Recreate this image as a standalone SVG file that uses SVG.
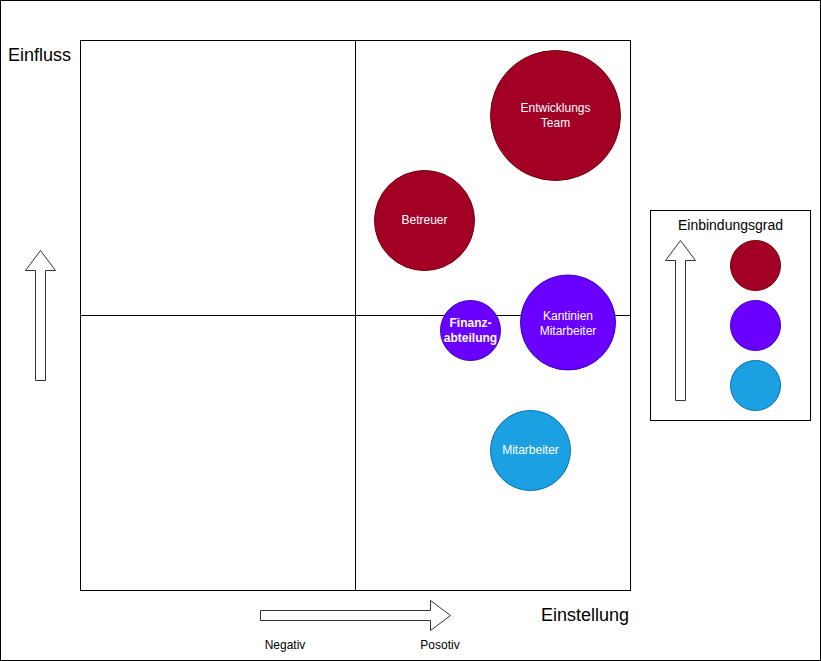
<svg xmlns="http://www.w3.org/2000/svg" width="821" height="661" viewBox="0 0 821 661">
<style>
.t{font-family:"Liberation Sans",Arial,sans-serif;fill:#000}
.w{font-family:"Liberation Sans",Arial,sans-serif;fill:#fff;font-size:12px;text-anchor:middle}
.red{fill:#a20025;stroke:#6f0000}
.pur{fill:#6a00ff;stroke:#3700cc}
.blu{fill:#1ba1e2;stroke:#006eaf}
.arr{fill:#fff;stroke:#333;stroke-width:1}
.ln{fill:none;stroke:#000;stroke-width:1}
</style>
<rect x="0.5" y="0.5" width="820" height="660" fill="#fff" stroke="#000"/>
<g id="grid">
<rect class="ln" x="80.5" y="40.5" width="550" height="550"/>
<line class="ln" x1="355.5" y1="40.5" x2="355.5" y2="590.5"/>
<line class="ln" x1="80.5" y1="315.5" x2="630.5" y2="315.5"/>
</g>
<g id="axis-labels">
<text class="t" x="8" y="61" font-size="18">Einfluss</text>
<text class="t" x="541" y="621" font-size="18">Einstellung</text>
<text class="t" x="285" y="649" font-size="12" text-anchor="middle">Negativ</text>
<text class="t" x="440" y="649" font-size="12" text-anchor="middle">Posotiv</text>
</g>
<g id="connectors">
<path id="arrow-up" class="arr" d="M35.5,380.5 V270.5 H25.5 L40.5,250.5 L55.5,270.5 H45.5 V380.5 Z"/>
<path id="arrow-right" class="arr" d="M260.5,610.5 H430.5 V600.5 L450.5,615.5 L430.5,630.5 V620.5 H260.5 Z"/>
</g>
<g id="entwicklungs-team">
<circle class="red" cx="555.5" cy="115.5" r="65"/>
<text class="w" x="555.5" y="112">Entwicklungs</text>
<text class="w" x="555.5" y="127">Team</text>
</g>
<g id="betreuer">
<circle class="red" cx="424.5" cy="220.5" r="50"/>
<text class="w" x="424.5" y="224">Betreuer</text>
</g>
<g id="finanzabteilung">
<circle class="pur" cx="470.5" cy="330.5" r="30"/>
<text class="w" x="470.5" y="327" font-weight="bold">Finanz-</text>
<text class="w" x="470.5" y="342" font-weight="bold">abteilung</text>
</g>
<g id="kantinien-mitarbeiter">
<circle class="pur" cx="568" cy="322.5" r="47.5"/>
<text class="w" x="568" y="320">Kantinien</text>
<text class="w" x="568" y="335">Mitarbeiter</text>
</g>
<g id="mitarbeiter">
<circle class="blu" cx="530.5" cy="450.5" r="40"/>
<text class="w" x="530.5" y="454">Mitarbeiter</text>
</g>
<g id="legend">
<rect class="ln" x="650.5" y="210.5" width="160" height="210"/>
<text class="t" x="730.5" y="230" font-size="14" text-anchor="middle">Einbindungsgrad</text>
<path class="arr" d="M675.5,400.5 V260.5 H665.5 L680.5,240.5 L695.5,260.5 H685.5 V400.5 Z"/>
<circle class="red" cx="755.5" cy="265.5" r="25"/>
<circle class="pur" cx="755.5" cy="325.5" r="25"/>
<circle class="blu" cx="755.5" cy="385.5" r="25"/>
</g>
</svg>
